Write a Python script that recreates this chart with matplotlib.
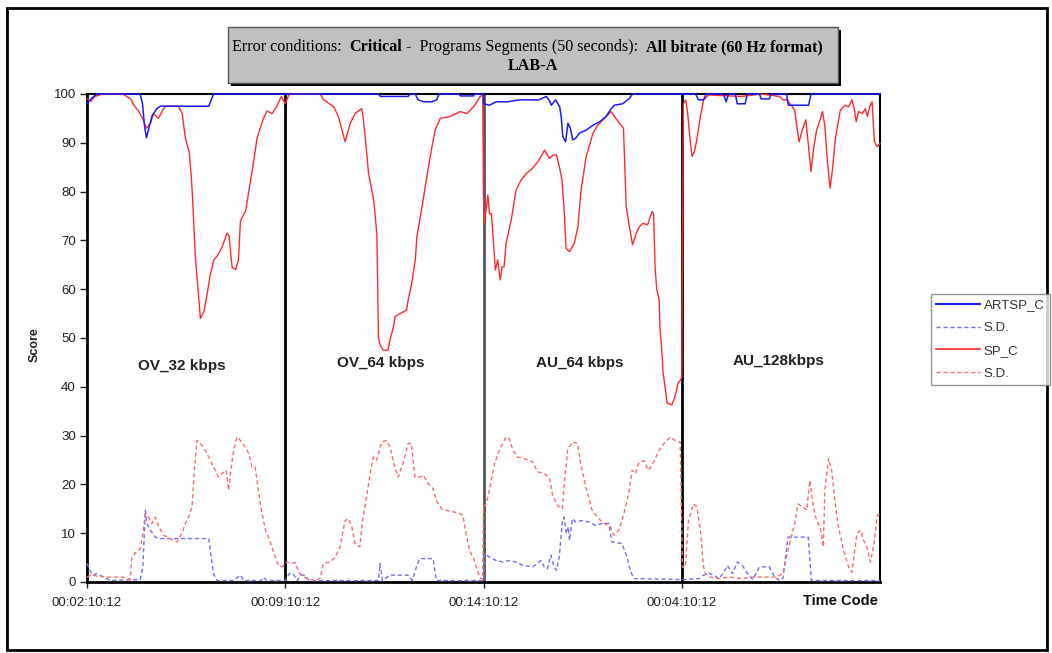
import matplotlib.pyplot as plt
from matplotlib.lines import Line2D
from matplotlib.patches import Rectangle
from matplotlib.text import Annotation

W, H = 1052, 653

# time axis: 4 program segments of 50 seconds each
tick_pos = [0, 50, 100, 150]
tick_labels = ['00:02:10:12', '00:09:10:12', '00:14:10:12', '00:04:10:12']
segment_names = ['OV_32 kbps', 'OV_64 kbps', 'AU_64 kbps', 'AU_128kbps']
segment_label_x = [24, 74, 124.3, 174.3]
segment_label_y = [44.3, 44.9, 44.9, 45.3]

# SP_C (red solid)
sp_x = [0, 1, 2, 4, 9, 11, 12, 13, 14, 15, 16, 16.8, 18, 19.3, 20, 23, 24, 24.8, 25.8, 26.3, 26.6, 27, 27.3, 27.8,
        28.6, 29.5, 30.3, 31.1, 32, 33, 34, 35.3, 35.8, 36.6, 37.5, 38.2, 38.7, 40, 40.8, 42, 42.9, 44.5, 45.4,
        46.7, 47.9, 49, 50,
        50.5, 51, 58.8, 59.7, 62.2, 63.4, 64.3, 65.1, 66.4, 67.6, 69.3, 69.7, 70.4, 71, 72.3, 73.1, 73.3, 73.5,
        74, 74.7, 75.9, 76.4, 77.3, 77.7, 78.9, 80.6, 81, 81.9, 82.8, 83.2, 84.5, 85.7, 87, 87.8, 89.1, 91.6,
        94.1, 95.8, 97.5, 99.2, 99.8,
        100, 100.25, 101.1, 101.5, 102, 102.4, 103, 103.6, 104.2, 104.7, 105.2, 105.7, 107, 108.2, 109.5, 110.8,
        112.4, 113.7, 115.4, 116.6, 117.6, 118.4, 119.2, 119.8, 120.4, 120.8, 121.7, 122.9, 123.8, 124.6, 125.9,
        127.6, 128.8, 130.5, 132.2, 133, 134.3, 135.3, 136, 136.8, 137.6, 138.5, 139.3, 140.2, 141.4, 142.5,
        142.9, 143.3, 143.7, 144.3, 144.5, 144.9, 145.3, 145.8, 146.3, 147.5, 148.3, 149.1, 149.7, 150,
        150.4, 151, 151.5, 152.1, 152.6, 153.2, 153.8, 154.7, 155.5, 156.8, 165, 170, 174.7, 175.5, 176.6, 177.6,
        178.5, 178.9, 179.6, 180.4, 181.3, 181.9, 182.6, 183.2, 184, 184.9, 185.5, 186.1, 186.7, 187.4, 188,
        188.7, 189.1, 190, 191.2, 192.1, 192.9, 193.5, 194, 194.6, 195.5, 196.3, 196.8, 197.4, 198, 198.6,
        199.3, 200]
sp_y = [99, 98.5, 99.5, 100, 100, 99, 97.5, 96.5, 95, 93, 94, 96, 95, 97, 97.5, 97.5, 96, 91, 88, 83, 79, 72, 67, 62,
        54, 55.5, 59, 63, 66, 67, 68.5, 71.5, 71, 64.5, 64, 66, 74, 76, 80, 86, 91, 95, 96.5,
        96, 97.5, 99.5, 98,
        99, 100, 100, 98.8, 97.4, 95.4, 92.6, 90.2, 94, 96, 97, 94.7, 89.2, 83.7, 78.3, 71.4, 61.9, 50,
        48.5, 47.5, 47.5, 49.6, 52.3, 54.4, 55, 55.7, 57.8, 61.2, 66, 70.8, 76.9, 83, 89.2, 92.6, 95, 95.4,
        96.4, 96, 97.4, 99.5, 99.8,
        79, 73.5, 79.3, 75.5, 75.5, 70.8, 63.9, 66, 61.9, 64.6, 64.6, 69.4, 74.2, 80.3, 82.4, 83.7,
        84.8, 86.1, 88.5, 86.8, 87.5, 87.5, 84.8, 82.4, 75.5, 68.4, 67.7, 69.4, 72.8, 80.3, 87.2,
        91.9, 93.6, 95, 96.4, 95.4, 94, 93, 76.9, 72.8, 69.1, 71.4, 72.8, 73.5, 73.2, 75.9,
        75.5, 64, 60, 57.8, 52.3, 48.2, 42.8, 40, 36.7, 36.3, 38, 40.8, 41.4, 42,
        98, 98.8, 96, 90.6, 87.2, 88.2, 90.6, 95.4, 98.8, 99.8, 99.5, 100, 99.5, 98.8, 98.8, 97.7,
        96.7, 94, 90.2, 92.6, 94.7, 89.9, 84.1, 88.5, 92.6, 94.7, 96.4, 93.3, 86.5, 80.7, 84.4,
        90.6, 92.6, 96.7, 97.7, 97.4, 98.8, 97, 94.3, 96.4, 96, 97, 95.4, 97.4, 98.4, 90.2,
        89.2, 89.9]

# ARTSP_C (blue solid)
artsp_x = [0, 1, 2.5, 13.4, 14, 14.5, 15, 15.6, 16.4, 17.6, 18.5, 30.7, 31.9, 50,
           73.5, 74, 81, 81.5, 82.8, 83.5, 85, 87, 88.2, 88.8, 93.8, 94.2, 97.4, 97.8, 100,
           100.1, 101.5, 103.2, 106, 109.1, 114, 115.8, 116.5, 117.1, 118.2, 119.2, 119.6, 120, 120.7, 121.3,
           121.9, 122.5, 123.3, 124.2, 125.9, 127.6, 129.3, 130.9, 132.2, 133, 135.1, 136.8, 137.6, 150,
           153.5, 154.2, 155.5, 156.2, 160.5, 161.2, 161.8, 163.5, 164, 166, 166.5, 169.6, 170, 172.1, 172.5,
           176.4, 176.9, 182, 182.6, 200]
artsp_y = [98, 99, 100, 100, 98, 93.5, 91, 93, 95.5, 97, 97.5, 97.5, 100, 100,
           100, 99.5, 99.5, 100, 100, 98.8, 98.4, 98.4, 98.8, 100, 100, 99.6, 99.6, 100, 100,
           98, 97.7, 98.4, 98.4, 98.8, 98.8, 99.5, 98.8, 97.7, 98.8, 97.4, 95.4, 91.3, 90.2, 94,
           93, 90.6, 91, 92, 92.6, 93.6, 94.3, 95.4, 97, 97.7, 98, 99.1, 100, 100,
           100, 98.8, 98.8, 100, 100, 98.4, 100, 100, 98, 98, 100, 100, 99, 99, 100,
           100, 97.7, 97.7, 100, 100]

# S.D. of SP_C (red dashed)
sp_sd_x = [0, 1.2, 2.5, 5, 9, 10.9, 11.3, 12.2, 13.4, 14.1, 14.7, 15.5, 16.4, 17.2, 18.1, 19.3, 21, 22.7, 23.9,
           24.8, 25.6, 26.5, 26.9, 27.7, 28.6, 29.8, 30.7, 31.9, 33.2, 34, 35.1, 35.7, 36.6, 37, 37.8, 38.7,
           39.9, 40.8, 41.6, 42.4, 43.7, 45, 45.8, 46.6, 47.5, 48.3, 49.2, 50,
           50.4, 51.7, 52.5, 53.4, 54.6, 57.1, 58.8, 59.6, 61.3, 62.6, 63.8, 65.1, 65.9, 66.8, 67.6, 68.8, 69.5,
           70.5, 71.4, 72.2, 73, 74.3, 75.5, 76.4, 77.6, 78.5, 79.7, 81, 81.8, 82.7, 83.9, 84.8, 86, 87.3, 88.1,
           89.4, 90.6, 92.3, 94, 94.8, 95.6, 96.5, 97.7, 99, 99.8,
           100, 100.7, 101.5, 102.8, 104, 105.7, 106.5, 107.4, 108.6, 110.3, 112.4, 113.6, 115.3, 116.6, 117.4,
           118.6, 119.9, 120.3, 121.2, 122.4, 123.7, 124.5, 125.8, 127.4, 128.7, 129.9, 131.2, 132, 132.9,
           134.1, 135.4, 136.6, 137.5, 138.3, 139.1, 140.4, 141.6, 142.5, 144.1, 145.8, 147.1, 148.3, 149.6,
           150.2, 150.9, 151.7, 153, 153.8, 154.7, 155.5, 156, 157.2, 159.4, 162, 165, 168, 173.8, 174.7, 175.5,
           176.4, 177.6, 178.5, 179.3, 180.6, 181.5, 182.3, 183.2, 184, 184.9, 185.7, 186.1, 187, 187.8,
           188.7, 189.5, 190.8, 192.1, 192.9, 194.2, 195.1, 195.9, 196.8, 197.6, 198.5, 199.3, 200]
sp_sd_y = [1, 1.5, 1.2, 1, 1, 0.5, 5, 6, 6.8, 9.9, 14, 13.3, 12, 13.3, 11.3, 9.6, 8.9, 8.2, 9.9,
           12, 13.3, 15.4, 20.8, 29, 28.4, 27, 25.6, 23.6, 21.5, 22.2, 22.9, 18.8, 24.9, 27, 29.7, 29,
           27.7, 26.3, 23.6, 23.6, 16, 10.6, 9.2, 7.2, 5.1, 3.4, 3.1, 3.8,
           4.1, 3.8, 4, 2, 1, 0.3, 0.7, 3.8, 4.1, 5.1, 7.2, 12.6, 13, 11.3, 7.9, 7.2, 12.6,
           17.4, 22.2, 25.6, 24.9, 28.7, 29, 27.7, 23.6, 21.5, 24.3, 28.4, 28.4, 21.5, 21.5, 21.9, 20.2, 19.1, 16.7,
           15, 14.7, 14.4, 14, 13.7, 9.9, 6.5, 4.4, 1, 0.5,
           15.4, 16, 18.8, 24.3, 27, 29.7, 29.4, 27, 25.6, 25.3, 24.6, 22.6, 22.2, 21.5, 17.8,
           15.7, 15, 19.5, 27, 28.7, 28.4, 24.3, 19.5, 14.7, 13.3, 12.3, 11.6, 11.3, 9.6,
           10.6, 14, 18.1, 22.9, 22.2, 24.3, 24.9, 22.9, 23.9, 26.7, 28.7, 29.7, 29, 28.7,
           3, 3.1, 12.6, 16, 15.4, 10.6, 3.1, 1.7, 1, 0.7, 1, 0.7, 1, 1, 1.4, 1.7,
           5.1, 9.2, 12, 16, 15.4, 14.7, 20.8, 15.4, 12.6, 11.3, 7.2, 18.8, 25.3, 22.9,
           16, 11.3, 6.5, 3.1, 2, 9.9, 10.6, 8.5, 6.8, 4.1, 7.9, 13.7, 14]

# S.D. of ARTSP_C (blue dashed)
artsp_sd_x = [0, 1.3, 2.5, 4.2, 5.9, 13.4, 14.1, 14.7, 15.1, 16, 17.2, 18.5, 30.7, 31.9, 32.8, 37, 38.7, 39.5, 44,
              44.5, 45.3, 50,
              51, 52, 53, 54, 55, 56, 73.5, 73.9, 74.5, 76.4, 81, 82, 83.1, 83.9, 87.3, 88.1, 100,
              100.25, 101.5, 103.2, 104.8, 106.5, 108.2, 109.9, 112.4, 113.6, 114.5, 115.3, 116.1, 117, 117.8,
              118.4, 119.1, 119.9, 120.3, 120.9, 121.4, 121.7, 122.4, 123.2, 124.9, 126.6, 128.3, 129.9, 131.6,
              132.4, 134.9, 136.2, 137, 137.9, 150,
              154.3, 155.5, 156.8, 158.1, 159.4, 160.6, 161.5, 162.8, 164, 165.3, 166.6, 167.9, 169.6, 172.1,
              173.4, 174.7, 175.5, 176.8, 181.9, 182.7, 200]
artsp_sd_y = [3.8, 1.4, 1.7, 1, 0.3, 0.5, 3, 14.7, 12, 10.6, 9.2, 8.9, 8.9, 1.7, 0.3, 0.3, 1.4, 0.3, 0.3,
              1, 0.3, 0.3,
              1.7, 1.7, 0.3, 1.4, 1.4, 0.3, 0.3, 3.8, 0.3, 1.4, 1.4, 0.3, 3.1, 4.8, 4.8, 0.3, 0.3,
              5.8, 5.1, 4.4, 4.1, 4.4, 4.1, 3.4, 3.1, 3.8, 4.4, 3.1, 2.7, 5.5, 3.1,
              2.4, 5.1, 12.6, 13.3, 9.9, 11.3, 8.5, 13, 12.3, 12.6, 12.3, 11.6, 12, 12,
              8.2, 7.9, 5.1, 2.4, 0.7, 0.5,
              0.7, 1.4, 1.8, 1.4, 0.7, 2, 3.4, 1.7, 4.1, 3.4, 1.7, 0.5, 3.1, 3.1,
              1, 0.3, 0.7, 9.2, 9.2, 0.3, 0.3]

fig = plt.figure(figsize=(W / 100, H / 100), dpi=100)
ax = fig.add_axes([87 / W, 71 / H, 793 / W, 488 / H])

blue = '#1a1aff'
red = '#ff2a2a'
ax.plot(artsp_sd_x, artsp_sd_y, color='#7070ff', lw=1, ls=(0, (3, 2)), zorder=3, clip_on=False)
ax.plot(sp_sd_x, sp_sd_y, color='#ff6a6a', lw=1, ls=(0, (3, 2)), zorder=3, clip_on=False)
ax.plot(sp_x, sp_y, color=red, lw=1, zorder=4, clip_on=False)
ax.plot(artsp_x, artsp_y, color=blue, lw=1.1, zorder=5, clip_on=False)

# segment separators
for xp, c in zip(tick_pos[1:], ['black', '#555555', 'black']):
    ax.axvline(xp, color=c, lw=2, zorder=2)

for name, lx, ly in zip(segment_names, segment_label_x, segment_label_y):
    ax.text(lx, ly, name, ha='center', va='center', fontsize=11, fontweight='bold',
            family='Liberation Sans', color='#222222')

ax.set_xlim(0, 200)
ax.set_ylim(0, 100)
ax.set_yticks(range(0, 101, 10))
ax.set_xticks(tick_pos)
ax.set_xticklabels(tick_labels)
ax.tick_params(axis='y', direction='out', length=5, width=1, labelsize=9.5, colors='#222222', pad=3)
ax.tick_params(axis='x', direction='out', length=4, width=1, labelsize=9.5, colors='#222222', pad=7)
for lab in ax.get_xticklabels() + ax.get_yticklabels():
    lab.set_family('Liberation Sans')
for side in ['left', 'bottom']:
    ax.spines[side].set_linewidth(2)
for side in ['top', 'right']:
    ax.spines[side].set_linewidth(1.5)

fig.text(35 / W, 1 - 345 / H, 'Score', rotation=90, ha='center', va='center', fontsize=9,
         fontweight='bold', family='Liberation Sans', color='#222222')
fig.text(840 / W, 1 - 601 / H, 'Time Code', ha='center', va='center', fontsize=10.5,
         fontweight='bold', family='Liberation Sans', color='#111111')

# title box with shadow
fig.patches.append(Rectangle((231 / W, 1 - 86 / H), 610 / W, 56 / H, transform=fig.transFigure,
                             facecolor='black', edgecolor='none', zorder=1))
fig.patches.append(Rectangle((228 / W, 1 - 83 / H), 610 / W, 56 / H, transform=fig.transFigure,
                             facecolor='#c0c0c0', edgecolor='#555555', lw=1, zorder=2))

serif = 'Liberation Serif'
tsize = 11.6
pieces = [('Error conditions:  ', 'normal'), ('Critical', 'bold'),
          (' -  Programs Segments (50 seconds):  ', 'normal'), ('All bitrate (60 Hz format)', 'bold')]
t = fig.text(232 / W, 1 - 55 / H, pieces[0][0], fontsize=tsize, family=serif, fontweight=pieces[0][1],
             va='bottom', ha='left', zorder=3)
for s, wgt in pieces[1:]:
    t = Annotation(s, xy=(1, 0), xycoords=t, va='bottom', ha='left', fontsize=tsize, family=serif,
                   fontweight=wgt, zorder=3)
    fig.add_artist(t)
fig.text(533 / W, 1 - 66 / H, 'LAB-A', ha='center', va='center', fontsize=tsize, family=serif,
         fontweight='bold', zorder=3)

# legend
handles = [Line2D([], [], color=blue, lw=1.5),
           Line2D([], [], color='#7070ff', lw=1, ls=(0, (3, 2))),
           Line2D([], [], color=red, lw=1.2),
           Line2D([], [], color='#ff6a6a', lw=1, ls=(0, (3, 2)))]
leg = fig.legend(handles, ['ARTSP_C', 'S.D.', 'SP_C', 'S.D.'], loc='upper left',
                 bbox_to_anchor=(931 / W, 1 - 294 / H), borderaxespad=0, fancybox=False,
                 edgecolor='#777777', handlelength=3.3, handletextpad=0.3, labelspacing=0.8,
                 borderpad=0.4, prop={'family': 'Liberation Sans', 'size': 9.5})
leg.get_frame().set_linewidth(1)
for txt in leg.get_texts():
    txt.set_color('#333333')

# outer frame
fig.patches.append(Rectangle((7 / W, 3 / H), 1040 / W, 642 / H, transform=fig.transFigure,
                             facecolor='none', edgecolor='black', lw=2))

fig.savefig('out.png', dpi=100)
